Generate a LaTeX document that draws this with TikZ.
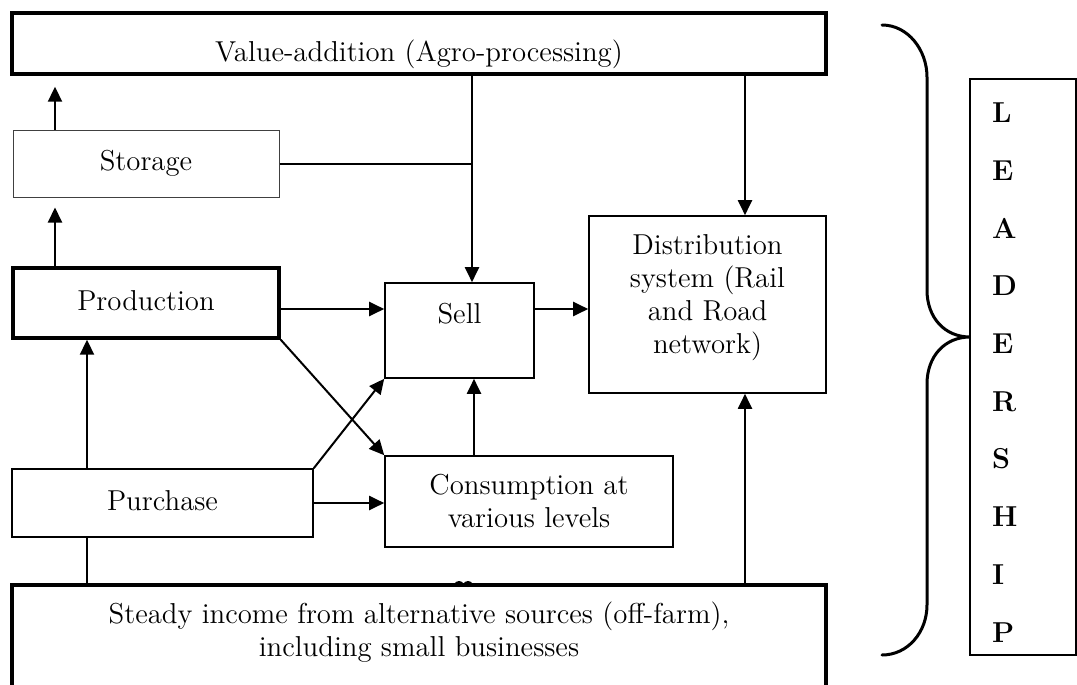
\documentclass[tikz,border=0pt]{standalone}
\usetikzlibrary{arrows.meta}
\begin{document}
\begin{tikzpicture}[x=0.5pt,y=-0.5pt,
  every node/.style={font=\fontsize{14.4}{16.5}\selectfont, inner sep=0pt},
  box/.style={draw, line width=0.8pt, align=center},
  thickbox/.style={draw, line width=1.7pt, align=center},
  single/.style={text height=10pt, text depth=2.8pt},
  arr/.style={line width=1pt, -{Triangle[length=7.5pt,width=7pt]}},
  conn/.style={line width=1pt},
  brace/.style={line width=1.5pt, line cap=round}]
\useasboundingbox (0,0) rectangle (1077,685);

% boxes
\node[thickbox, minimum width=407pt, minimum height=30.5pt] (top) at (419,43.5)
  {\rule{0pt}{21.3pt}Value-addition (Agro-processing)};
\node[box, single, draw=black!75, line width=0.5pt, minimum width=133pt, minimum height=33.5pt] (sto) at (146,163.5) {Storage};
\node[thickbox, single, minimum width=133pt, minimum height=35pt] (prod) at (146,303) {Production};
\node[box, minimum width=74.5pt, minimum height=47.5pt] (sell) at (459.5,330.5) {Sell\rule[-17.3pt]{0pt}{0pt}};
\node[box, minimum width=118.5pt, minimum height=88.5pt] (dist) at (707.5,304.5)
  {Distribution\\system (Rail\\and Road\\network)\rule[-10pt]{0pt}{0pt}};
\node[box, minimum width=144pt, minimum height=45.5pt] (cons) at (529,501.5) {Consumption at\\various levels};
\node[box, single, minimum width=150.5pt, minimum height=34pt] (pur) at (162.5,503) {Purchase};
\node[thickbox, minimum width=407pt, minimum height=80pt] (inc) at (419,665)
  {Steady income from alternative sources (off-farm),\\including small businesses\rule[-36.3pt]{0pt}{0pt}};
\node[box, minimum width=53pt, minimum height=288pt, text width=31pt, inner xsep=11pt, align=left,
  font=\fontsize{14.4}{28.85}\selectfont\bfseries] (lead) at (1023,367)
  {\rule{0pt}{15.4pt}L\\E\\A\\D\\E\\R\\S\\H\\I\\P};

% helper coordinates
\coordinate (xa) at (55,0);
\coordinate (xb) at (87,0);
\coordinate (xs) at (472,0);
\coordinate (xc) at (474,0);
\coordinate (xd) at (745,0);
\coordinate (row) at (0,309);

% connectors
\draw[arr, shorten >=5pt] (prod.north -| xa) -- (sto.south -| xa);
\draw[arr, shorten >=5.5pt] (sto.north -| xa) -- (top.south -| xa);
\draw[conn] (sto.east) -- (sto.east -| xs);
\draw[arr] (top.south -| xs) -- (sell.north -| xs);
\draw[arr] (top.south -| xd) -- (dist.north -| xd);
\draw[arr] (inc.north -| xd) -- (dist.south -| xd);
\draw[arr] (prod.east |- row) -- (sell.west |- row);
\draw[arr] (sell.east |- row) -- (dist.west |- row);
\draw[arr] (cons.north -| xc) -- (sell.south -| xc);
\draw[arr] (pur.east) -- (pur.east -| cons.west);
\draw[arr] (pur.north east) -- (sell.south west);
\draw[arr] (prod.south east) -- (cons.north west);
\draw[conn] (inc.north -| xb) -- (pur.south -| xb);
\draw[arr] (pur.north -| xb) -- (prod.south -| xb);

% brace
\draw[brace] (882,25) .. controls (908,25) and (927,50) .. (927,77) -- (927,290)
  .. controls (927,318) and (945,337) .. (970,337)
  .. controls (945,337) and (927,356) .. (927,384) -- (927,605)
  .. controls (927,632) and (908,655) .. (882,655);

% small marks on the income box edge
\fill (459,584) ellipse [x radius=2.2pt, y radius=1.5pt];
\fill (468,584) ellipse [x radius=2.2pt, y radius=1.5pt];
\end{tikzpicture}
\end{document}
